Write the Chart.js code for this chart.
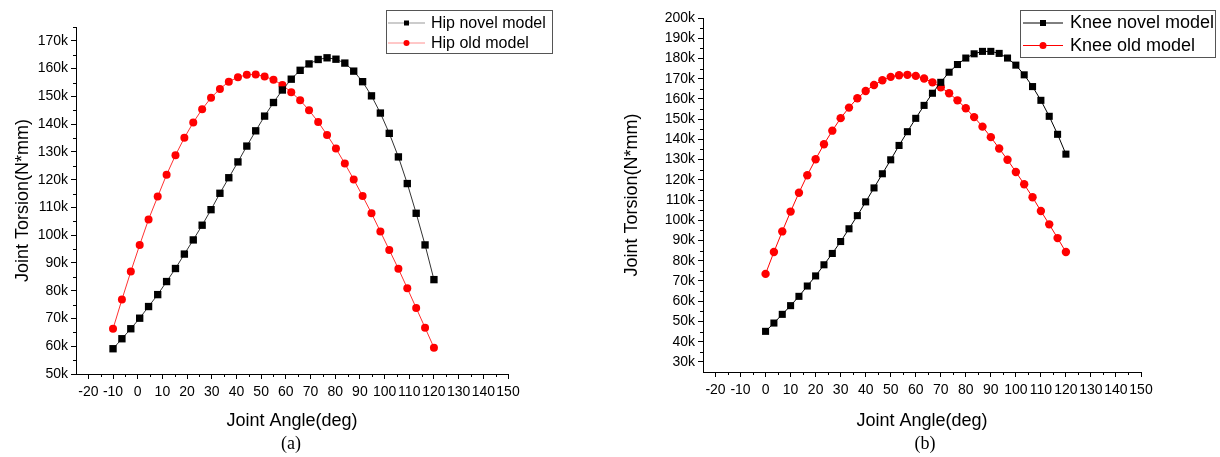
<!DOCTYPE html>
<html>
<head>
<meta charset="utf-8">
<script src="https://cdn.jsdelivr.net/npm/chart.js@4/dist/chart.umd.min.js"></script>
<style>
  body { margin: 0; background: #fff; }
  #wrap { position: relative; width: 1220px; height: 457px; overflow: hidden; }
  canvas { position: absolute; top: 0; }
  .cap { position: absolute; top: 433px; width: 60px; margin-left: -30px; text-align: center;
         font: 18px "Liberation Serif", "Times New Roman", serif; color: #000; }
</style>
</head>
<body>
<div id="wrap">
  <canvas id="hipChart" width="610" height="457" style="left:0"></canvas>
  <canvas id="kneeChart" width="610" height="457" style="left:610px"></canvas>
  <div class="cap" style="left:291px">(a)</div>
  <div class="cap" style="left:925px">(b)</div>
</div>
<script>
// values, torsion in thousands of N*mm (k)
const hipAngle = [-10, -6.4, -2.8, 0.8, 4.4, 8.1, 11.7, 15.3, 18.9, 22.5, 26.1, 29.7, 33.3, 36.9, 40.6, 44.2,
  47.8, 51.4, 55, 58.6, 62.2, 65.8, 69.4, 73.1, 76.7, 80.3, 83.9, 87.5, 91.1, 94.7, 98.3, 101.9, 105.6,
  109.2, 112.8, 116.4, 120];
const hipNovel = [59.1, 62.7, 66.3, 70.1, 74.3, 78.6, 83.3, 88.0, 93.2, 98.3, 103.6, 109.2,
  115.1, 120.7, 126.4, 132.1, 137.6, 142.9, 147.8, 152.3, 156.2, 159.4, 161.7, 163.3, 163.9,
  163.4, 162.0, 159.1, 155.3, 150.2, 144.0, 136.7, 128.2, 118.6, 107.9, 96.5, 84.0];
const hipOld = [66.3, 76.8, 86.9, 96.5, 105.7, 113.9, 121.8, 128.8, 135.1, 140.6, 145.4, 149.5,
  152.7, 155.3, 156.9, 157.8, 157.9, 157.2, 156.0, 154.1, 151.5, 148.6, 145.0, 140.8, 136.1,
  131.2, 125.8, 120.1, 114.1, 107.9, 101.3, 94.7, 87.9, 80.9, 73.8, 66.7, 59.5];

const kneeAngle = [0, 3.33, 6.67, 10, 13.33, 16.67, 20, 23.33, 26.67, 30, 33.33, 36.67, 40, 43.33, 46.67,
  50, 53.33, 56.67, 60, 63.33, 66.67, 70, 73.33, 76.67, 80, 83.33, 86.67, 90, 93.33, 96.67, 100, 103.33,
  106.67, 110, 113.33, 116.67, 120];
const kneeNovel = [45.1, 49.2, 53.5, 57.8, 62.4, 67.5, 72.5, 78.0, 83.6, 89.5, 95.8, 102.3,
  109.1, 116.0, 123.0, 129.9, 137.0, 143.8, 150.4, 156.8, 162.8, 168.2, 173.2, 177.0, 180.2,
  182.3, 183.5, 183.5, 182.5, 180.2, 176.7, 171.9, 166.1, 159.3, 151.4, 142.5, 132.7];
const kneeOld = [73.5, 84.3, 94.5, 104.3, 113.6, 122.3, 130.2, 137.6, 144.3, 150.5, 155.7, 160.3,
  163.9, 166.9, 169.2, 170.9, 171.7, 171.9, 171.4, 170.1, 168.2, 165.8, 162.8, 159.3, 155.4,
  151.0, 146.3, 141.1, 135.5, 129.9, 123.9, 117.8, 111.4, 104.6, 98.0, 91.2, 84.3];

const FONT = '"Liberation Sans", Arial, sans-serif';

function pts(xs, ys) {
  return xs.map((x, i) => ({ x: x, y: ys[i] }));
}

// minor ticks + framed legend inside the plot
const extras = {
  id: 'extras',
  afterDraw(chart, args, o) {
    const ctx = chart.ctx;
    const xs = chart.scales.x, ys = chart.scales.y;
    ctx.save();
    ctx.strokeStyle = '#000';
    ctx.lineWidth = 1;
    ctx.beginPath();
    for (let v = Math.ceil(xs.min / 5) * 5; v <= xs.max; v += 5) {
      if (v % 10 === 0 || v === xs.min) continue;
      const p = Math.round(xs.getPixelForValue(v)) + 0.5;
      ctx.moveTo(p, xs.top); ctx.lineTo(p, xs.top + 3);
    }
    for (let v = Math.ceil(ys.min / 5) * 5; v <= ys.max; v += 5) {
      if (v % 10 === 0 || v === ys.min) continue;
      const p = Math.round(ys.getPixelForValue(v)) + 0.5;
      ctx.moveTo(ys.right, p); ctx.lineTo(ys.right - 3, p);
    }
    ctx.stroke();

    // legend box
    const L = o.legend;
    ctx.strokeStyle = '#555';
    ctx.strokeRect(L.x + 0.5, L.y + 0.5, L.w, L.h);
    ctx.font = L.fontSize + 'px ' + FONT;
    ctx.textBaseline = 'middle';
    chart.data.datasets.forEach((ds, i) => {
      const cy = L.rows[i];
      ctx.strokeStyle = L.lineColors[i];
      ctx.beginPath();
      ctx.moveTo(L.lineFrom, cy + 0.5); ctx.lineTo(L.lineTo, cy + 0.5);
      ctx.stroke();
      const mx = (L.lineFrom + L.lineTo) / 2;
      const s = L.marker[i];
      ctx.fillStyle = ds.pointBackgroundColor;
      if (ds.pointStyle === 'rect') {
        ctx.fillRect(mx - s / 2, cy - s / 2 + 0.5, s, s);
      } else {
        ctx.beginPath(); ctx.arc(mx, cy + 0.5, s / 2, 0, Math.PI * 2); ctx.fill();
      }
      ctx.fillStyle = '#000';
      ctx.fillText(ds.label, L.textX, cy + 1);
    });
    ctx.restore();
  }
};

function makeChart(id, cfg) {
  const ctx = document.getElementById(id).getContext('2d');
  return new Chart(ctx, {
    type: 'scatter',
    data: {
      datasets: [{
        label: cfg.labels[0],
        data: pts(cfg.angle, cfg.novel),
        showLine: true,
        borderColor: cfg.novelLine,
        borderWidth: 1,
        pointStyle: 'rect',
        pointRadius: cfg.sq,
        pointBackgroundColor: '#000',
        pointBorderColor: '#000',
        pointBorderWidth: 0
      }, {
        label: cfg.labels[1],
        data: pts(cfg.angle, cfg.old),
        showLine: true,
        borderColor: cfg.oldLine,
        borderWidth: 1,
        pointStyle: 'circle',
        pointRadius: cfg.dot,
        pointBackgroundColor: '#ff0000',
        pointBorderColor: '#ff0000',
        pointBorderWidth: 0
      }]
    },
    options: {
      responsive: false,
      animation: false,
      layout: { padding: { left: 0, top: cfg.top, right: cfg.right, bottom: 0 } },
      plugins: {
        legend: { display: false },
        tooltip: { enabled: false },
        extras: { legend: cfg.legend }
      },
      scales: {
        x: {
          type: 'linear',
          min: -25, max: 150,
          grid: { drawOnChartArea: false, tickLength: 5, tickColor: '#000' },
          border: { color: '#000', width: 1 },
          ticks: { stepSize: 10, includeBounds: false, autoSkip: false, maxRotation: 0, padding: 5,
                   color: '#000', font: { family: FONT, size: 14 } },
          title: { display: true, text: 'Joint Angle(deg)', color: '#000',
                   font: { family: FONT, size: 18 }, padding: { top: 4, bottom: cfg.xTitlePad } },
          afterFit: s => { s.height = cfg.xHeight; }
        },
        y: {
          min: cfg.yMin, max: cfg.yMax,
          grid: { drawOnChartArea: false, tickLength: 5, tickColor: '#000' },
          border: { color: '#000', width: 1 },
          ticks: { stepSize: 10, includeBounds: false, padding: 3, color: '#000',
                   font: { family: FONT, size: 14 },
                   callback: v => v + 'k' },
          title: { display: true, text: 'Joint Torsion(N*mm)', color: '#000',
                   font: { family: FONT, size: 18 }, padding: { top: cfg.yTitlePad, bottom: 0 } },
          afterFit: s => { s.width = cfg.yWidth; }
        }
      }
    },
    plugins: [extras]
  });
}

makeChart('hipChart', {
  labels: ['Hip novel model', 'Hip old model'],
  angle: hipAngle, novel: hipNovel, old: hipOld,
  novelLine: '#333', oldLine: '#ff3030',
  sq: 5.2, dot: 4,
  yMin: 50, yMax: 175,
  top: 27, right: 102, yWidth: 76, xHeight: 83, xTitlePad: 25, yTitlePad: 12,
  legend: { x: 386, y: 10, w: 166, h: 43, rows: [22.5, 42.5], lineFrom: 388, lineTo: 425,
            textX: 431, fontSize: 16, marker: [5, 6], lineColors: ['#999', '#ff9090'] }
});

makeChart('kneeChart', {
  labels: ['Knee novel model', 'Knee old model'],
  angle: kneeAngle, novel: kneeNovel, old: kneeOld,
  novelLine: '#000', oldLine: '#ff0000',
  sq: 5, dot: 4.2,
  yMin: 25, yMax: 200,
  top: 18, right: 79, yWidth: 93, xHeight: 85, xTitlePad: 25, yTitlePad: 11,
  legend: { x: 410, y: 10, w: 195, h: 47, rows: [22.5, 45], lineFrom: 413, lineTo: 453,
            textX: 460, fontSize: 18, marker: [6, 7], lineColors: ['#000', '#ff0000'] }
});
</script>
</body>
</html>
